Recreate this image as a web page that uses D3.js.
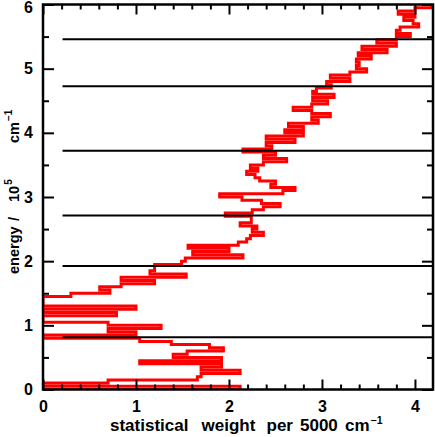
<!DOCTYPE html>
<html><head><meta charset="utf-8">
<script src="https://cdn.jsdelivr.net/npm/d3@7"></script>
<style>
html,body{margin:0;padding:0;background:#fff;}
text{font-family:"Liberation Sans",Arial,sans-serif;fill:#000;}
</style></head>
<body>
<svg id="chart" width="435" height="437"></svg>
<script>
// energy bins: 0.05 x 10^5 cm^-1 wide, starting at 0
const binWidth = 0.05;
const weights = [
  2.12, 0.00, 0.70, 1.66, 1.70, 2.12, 1.70, 1.92, 1.04, 1.92,
  1.40, 1.55, 1.94, 1.79, 1.38, 1.04, 0.00, 1.00, 0.70, 1.27,
  0.70, 0.00, 0.00, 0.79, 0.00, 1.00, 0.00, 0.00, 0.00, 0.30,
  0.72, 0.61, 0.84, 1.20, 0.84, 1.54, 1.15, 1.20, 1.20, 1.49,
  1.53, 2.15, 1.61, 2.00, 1.56, 2.10, 2.19, 2.23, 2.37, 2.25,
  2.30, 2.12, 2.24, 2.24, 1.96, 2.25, 2.37, 2.55, 2.35, 2.14,
  1.90, 2.58, 2.71, 2.45, 2.50, 2.33, 2.28, 2.19, 2.31, 2.23,
  2.37, 2.62, 2.37, 2.50, 2.15, 2.46, 2.40, 2.71, 2.40, 2.80,
  2.60, 2.80, 2.64, 2.96, 2.89, 3.09, 2.89, 2.69, 2.89, 3.06,
  2.90, 3.13, 2.90, 2.94, 3.10, 3.05, 3.30, 3.09, 3.30, 3.48,
  3.37, 3.40, 3.37, 3.53, 3.39, 3.70, 3.43, 3.80, 3.59, 3.80,
  3.95, 3.80, 3.84, 4.04, 3.98, 3.88, 4.00, 3.82, 4.00, 4.18
];
// reference energy levels (horizontal black lines)
const levels = [0.815, 1.925, 2.71, 3.72, 4.725, 5.46];
const levelStart = 0.21;
const xTicks = [0, 1, 2, 3, 4];
const yTicks = [0, 1, 2, 3, 4, 5, 6];
const xDomain = [0, 4.194];
const yDomain = [0, 6];
const xTitleWords = ["statistical", "weight", "per", "5000", "cm"];
const yTitleWords = ["energy", "/", "10", "cm"];

const svg = d3.select("#chart");
const L = 43, R = 433, T = 4.5, B = 389.5;
const x = d3.scaleLinear().domain(xDomain).range([L, R]);
const y = d3.scaleLinear().domain(yDomain).range([B, T]);

svg.append("defs").append("clipPath").attr("id","clip")
  .append("rect").attr("x",L).attr("y",T).attr("width",R-L).attr("height",B-T);

// step path
const pts = [{v:0,e:0}];
weights.forEach((w,i)=>{ pts.push({v:w,e:i*binWidth}); pts.push({v:w,e:(i+1)*binWidth}); });
const line = d3.line().x(d=>x(d.v)).y(d=>y(d.e));
svg.append("path").attr("d",line(pts)).attr("clip-path","url(#clip)")
  .attr("fill","none").attr("stroke","#ff0000").attr("stroke-width",3).attr("stroke-linejoin","miter");

// level lines
svg.selectAll("line.lvl").data(levels).join("line").attr("class","lvl")
  .attr("x1",x(levelStart)).attr("x2",R).attr("y1",d=>y(d)).attr("y2",d=>y(d))
  .attr("stroke","#000").attr("stroke-width",2);

// axes
function styleAxis(g){ g.select(".domain").remove(); g.selectAll(".tick line").attr("stroke","#000").attr("stroke-width",2); }
const xMinor = d3.range(0, 4.2, 0.2).filter(v=>Math.abs(v-Math.round(v))>1e-6);
const yMinor = [0.5,1.5,2.5,3.5,4.5,5.5];

svg.append("g").attr("transform",`translate(0,${B})`)
  .call(d3.axisBottom(x).tickValues(xTicks).tickSizeInner(-10).tickSizeOuter(0).tickPadding(11).tickFormat(d3.format("d")))
  .call(styleAxis).call(g=>g.selectAll("text").attr("font-size",16).attr("font-weight","bold").attr("fill","#000"));
svg.append("g").attr("transform",`translate(0,${B})`)
  .call(d3.axisBottom(x).tickValues(xMinor).tickSizeInner(-5).tickSizeOuter(0).tickFormat(""))
  .call(styleAxis);
svg.append("g").attr("transform",`translate(0,${T})`)
  .call(d3.axisTop(x).tickValues(xTicks).tickSizeInner(-10).tickSizeOuter(0).tickFormat(""))
  .call(styleAxis);
svg.append("g").attr("transform",`translate(0,${T})`)
  .call(d3.axisTop(x).tickValues(xMinor).tickSizeInner(-5).tickSizeOuter(0).tickFormat(""))
  .call(styleAxis);
svg.append("g").attr("transform",`translate(${L},0)`)
  .call(d3.axisLeft(y).tickValues(yTicks).tickSizeInner(-11).tickSizeOuter(0).tickPadding(10).tickFormat(d3.format("d")))
  .call(styleAxis).call(g=>g.selectAll("text").attr("font-size",16).attr("font-weight","bold").attr("fill","#000")
     .attr("dy",d=>d===6?"0.5em":"0.32em"));
svg.append("g").attr("transform",`translate(${L},0)`)
  .call(d3.axisLeft(y).tickValues(yMinor).tickSizeInner(-6).tickSizeOuter(0).tickFormat(""))
  .call(styleAxis);
svg.append("g").attr("transform",`translate(${R},0)`)
  .call(d3.axisRight(y).tickValues(yTicks).tickSizeInner(-11).tickSizeOuter(0).tickFormat(""))
  .call(styleAxis);
svg.append("g").attr("transform",`translate(${R},0)`)
  .call(d3.axisRight(y).tickValues(yMinor).tickSizeInner(-6).tickSizeOuter(0).tickFormat(""))
  .call(styleAxis);

// frame
svg.append("rect").attr("x",L).attr("y",T).attr("width",R-L).attr("height",B-T)
  .attr("fill","none").attr("stroke","#000").attr("stroke-width",2.5);

// x title
const xt = svg.append("text").attr("y",431).attr("font-size",17).attr("font-weight","bold");
const xPos = [110, 201.5, 266.5, 300, 345];
xTitleWords.forEach((w,i)=>xt.append("tspan").attr("x",xPos[i]).text(w));
xt.append("tspan").attr("dy",-7).attr("dx",1).attr("font-size",10.5).text("\u22121");

// y title (rotated)
const yt = svg.append("text").attr("transform","translate(19,274) rotate(-90)").attr("font-size",14.5).attr("font-weight","bold");
const yPos = [0, 53, 72, 131];
yt.append("tspan").attr("x",yPos[0]).text(yTitleWords[0]);
yt.append("tspan").attr("x",yPos[1]).text(yTitleWords[1]);
yt.append("tspan").attr("x",yPos[2]).text(yTitleWords[2]);
yt.append("tspan").attr("dy",-7).attr("dx",1).attr("font-size",10).text("5");
yt.append("tspan").attr("x",yPos[3]).attr("dy",7).text(yTitleWords[3]);
yt.append("tspan").attr("dy",-7).attr("dx",1).attr("font-size",10).text("\u22121");
</script>
</body></html>
